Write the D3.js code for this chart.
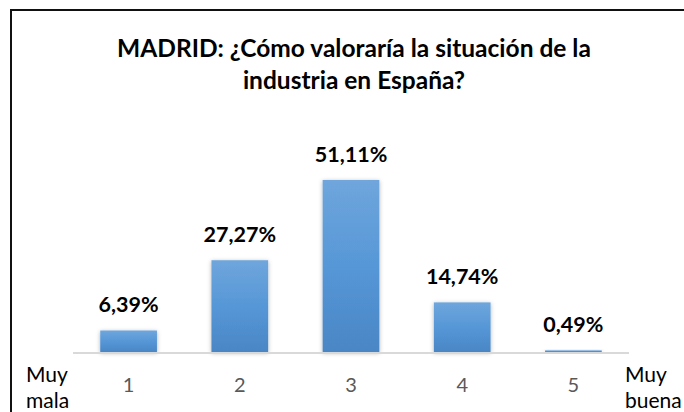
<!DOCTYPE html>
<html>
<head>
<meta charset="utf-8">
<script src="https://cdn.jsdelivr.net/npm/d3@7/dist/d3.min.js"></script>
<style>
  html, body { margin: 0; padding: 0; background: #fff; }
  svg { display: block; }
  text { font-family: Lato, "Open Sans", sans-serif; }
</style>
</head>
<body>
<svg id="chart" width="684" height="412"></svg>
<script>
// Survey answers: score 1 (very bad) to 5 (very good)
const categories = ["1", "2", "3", "4", "5"];
const values = [6.39, 27.27, 51.11, 14.74, 0.49];
const valueLabels = ["6,39%", "27,27%", "51,11%", "14,74%", "0,49%"];
const titleLines = ["MADRID: ¿Cómo valoraría la situación de la", "industria en España?"];
const leftEndLabel = ["Muy", "mala"];
const rightEndLabel = ["Muy", "buena"];

const svg = d3.select("#chart");
const W = 684, H = 412;

// frame (only the top and left edges fall inside the view)
svg.append("rect")
  .attr("x", 11).attr("y", 10)
  .attr("width", W).attr("height", H)
  .attr("fill", "#fff").attr("stroke", "#111").attr("stroke-width", 2);

const defs = svg.append("defs");
const grad = defs.append("linearGradient")
  .attr("id", "barFill").attr("x1", 0).attr("y1", 0).attr("x2", 0).attr("y2", 1);
grad.append("stop").attr("offset", "0%").attr("stop-color", "#6fa6dc");
grad.append("stop").attr("offset", "50%").attr("stop-color", "#5697d7");
grad.append("stop").attr("offset", "100%").attr("stop-color", "#4a86c6");

const shadow = defs.append("filter").attr("id", "barShadow")
  .attr("x", "-30%").attr("y", "-30%").attr("width", "160%").attr("height", "160%");
shadow.append("feDropShadow")
  .attr("dx", 0).attr("dy", 1).attr("stdDeviation", 2)
  .attr("flood-color", "#000").attr("flood-opacity", 0.3);

const x = d3.scaleBand()
  .domain(categories)
  .range([73, 629])
  .paddingInner(0.49)
  .paddingOuter(0.245);

const y = d3.scaleLinear()
  .domain([0, 51.11])
  .range([352, 180]);

// title
const titleX = 354;
svg.append("text")
  .attr("x", titleX).attr("y", 57)
  .attr("text-anchor", "middle")
  .attr("font-size", 24.5).attr("font-weight", "bold").attr("fill", "#000")
  .selectAll("tspan").data(titleLines).join("tspan")
  .attr("x", titleX).attr("dy", (d, i) => i === 0 ? 0 : 32)
  .text(d => d);

// bars
svg.append("g").selectAll("rect").data(values).join("rect")
  .attr("x", (d, i) => x(categories[i]))
  .attr("width", x.bandwidth())
  .attr("y", d => y(d))
  .attr("height", d => y(0) - y(d))
  .attr("fill", "url(#barFill)")
  .attr("filter", "url(#barShadow)");

// baseline
svg.append("line")
  .attr("x1", 73).attr("x2", 629)
  .attr("y1", y(0) + 1).attr("y2", y(0) + 1)
  .attr("stroke", "#d9d9d9").attr("stroke-width", 2);

// value labels
svg.append("g").selectAll("text").data(values).join("text")
  .attr("x", (d, i) => x(categories[i]) + x.bandwidth() / 2)
  .attr("y", d => y(d) - 18)
  .attr("text-anchor", "middle")
  .attr("font-size", 21.5).attr("font-weight", "bold").attr("fill", "#000")
  .text((d, i) => valueLabels[i]);

// category axis
const axis = svg.append("g")
  .attr("transform", `translate(0, ${y(0)})`)
  .call(d3.axisBottom(x).tickSize(0).tickPadding(0));
axis.select(".domain").remove();
axis.selectAll("text")
  .attr("dy", null)
  .attr("y", 40)
  .attr("font-family", "Lato, 'Open Sans', sans-serif")
  .attr("font-size", 20).attr("fill", "#595959");

// end labels, one text per line
function endLabel(lines, xPos) {
  svg.append("g").selectAll("text").data(lines).join("text")
    .attr("x", xPos)
    .attr("y", (d, i) => 382 + i * 26)
    .attr("font-size", 21).attr("fill", "#000")
    .text(d => d);
}
endLabel(leftEndLabel, 26);
endLabel(rightEndLabel, 625);
</script>
</body>
</html>
